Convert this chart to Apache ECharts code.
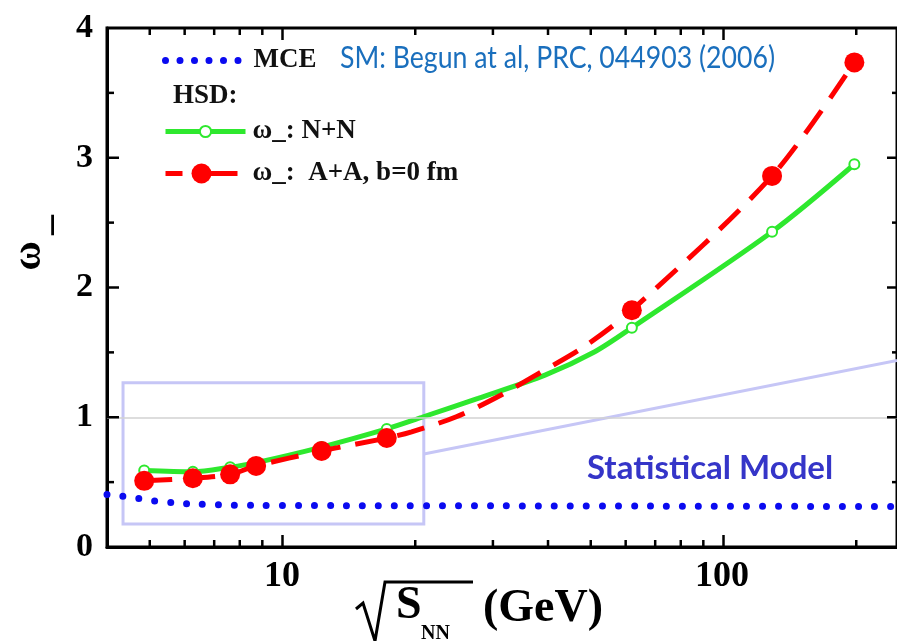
<!DOCTYPE html>
<html><head><meta charset="utf-8">
<script src="https://cdn.jsdelivr.net/npm/echarts@6/dist/echarts.min.js"></script>
<style>html,body{margin:0;padding:0;background:#fff}#c{width:897px;height:641px}</style>
</head><body><div id="c"></div>
<script>
// ---- data ----
const energies = [4.86, 6.27, 7.62, 8.73, 12.3, 17.3, 62.4, 130, 200];
const omegaNN = [0.59, 0.58, 0.615, 0.65, 0.77, 0.91, 1.69, 2.43, 2.95];
const omegaAA = [0.51, 0.53, 0.56, 0.625, 0.74, 0.84, 1.825, 2.86, 3.735];
// additional points (no markers there)
const nnCurveE = [20.8, 27.9, 39.6, 51.4];
const nnCurveW = [1.0, 1.146, 1.325, 1.505];
const aaCurveE = [19.7, 24.9, 31.4, 38.9, 48.9];
const aaCurveW = [0.888, 1.004, 1.17, 1.35, 1.55];
const mceEnergies = [4, 4.5, 5, 5.5, 6, 7, 8, 10, 20, 50, 100, 250];
const omegaMCE = [0.405, 0.385, 0.36, 0.345, 0.335, 0.326, 0.322, 0.32, 0.318, 0.316, 0.314, 0.312];
const xRange = [4, 250];
const yRange = [0, 4];
const xMajorTicks = [10, 100];
const xMinorTicks = [5, 6, 7, 8, 9, 20, 30, 40, 50, 60, 70, 80, 90, 200];
const yMajorTicks = [1, 2, 3];
const yMinorTicks = [0.5, 1.5, 2.5, 3.5];
const boxCorners = [[4.35, 1.266], [21, 0.177]];
const connector = [[21, 0.717], [250, 1.437]];
const refLine = 1;
const seriesNames = ['MCE', 'ω_: N+N', 'ω_:  A+A, b=0 fm'];

// ---- layout / style ----
const G = { left: 107, top: 28, width: 792, height: 519 };
const serif = "'Liberation Serif','Times New Roman',serif";
const zip = (xs, ys) => xs.map((x, i) => [x, ys[i]]);
function curveData(me, mw, ce, cw) {
  const pts = me.map((x, i) => ({ value: [x, mw[i]] }))
    .concat(ce.map((x, i) => ({ value: [x, cw[i]], symbol: 'none' })));
  return pts.sort((a, b) => a.value[0] - b.value[0]);
}
const legendText = { fontFamily: serif, fontWeight: 'bold', fontSize: 27, color: '#111' };

// inward tick marks on all four sides (axis decoration, from the axis ranges and the grid box)
const lg = Math.log10;
const pxOf = v => G.left + G.width * (lg(v) - lg(xRange[0])) / (lg(xRange[1]) - lg(xRange[0]));
const pyOf = v => G.top + G.height * (yRange[1] - v) / (yRange[1] - yRange[0]);
const tickEls = [];
function seg(x1, y1, x2, y2) {
  tickEls.push({ type: 'polyline', z: 100, silent: true,
    shape: { points: [[x1, y1], [x2, y2]] },
    style: { stroke: '#000', lineWidth: 2.5, fill: null } });
}
function addTicks(len, xs, ys) {
  const yb = G.top + G.height, yt = G.top, xl = G.left, xr = G.left + G.width;
  xs.forEach(v => { const x = pxOf(v); seg(x, yb, x, yb - len); seg(x, yt, x, yt + len); });
  ys.forEach(v => { const y = pyOf(v); seg(xl, y, xl + len, y); seg(xr, y, xr - len, y); });
}
addTicks(12, xMajorTicks, yMajorTicks);
addTicks(7, xMinorTicks, yMinorTicks);

const textEls = [
  { type: 'text', left: 173, top: 83, style: { text: 'HSD:', font: "bold 27px 'Liberation Serif'", fill: '#111' } },
  { type: 'text', x: 340, y: 58, scaleX: 0.86, style: { text: 'SM: Begun at al, PRC, 044903 (2006)', font: "31px Lato", fill: '#1a6fbd', verticalAlign: 'middle' } },
  { type: 'text', x: 587, y: 468, style: { text: 'Statistical Model', font: "bold 33px Lato", fill: '#3535c8', verticalAlign: 'middle' } },
  // y-axis title  ω_
  { type: 'text', x: 30, y: 256, rotation: Math.PI / 2, style: { text: 'ω', font: "bold 40px 'Liberation Serif'", fill: '#000', align: 'center', verticalAlign: 'middle' } },
  { type: 'text', x: 52, y: 225, rotation: Math.PI / 2, style: { text: '–', font: "bold 40px 'Liberation Serif'", fill: '#000', align: 'center', verticalAlign: 'middle' } },
  // x-axis title  √S_NN (GeV)
  { type: 'polyline', shape: { points: [[356, 609], [363, 603], [375, 641], [385, 582], [473, 582]] }, style: { stroke: '#000', lineWidth: 3, fill: null } },
  { type: 'text', x: 396, y: 606, style: { text: 'S', font: "bold 46px 'Liberation Serif'", fill: '#000', verticalAlign: 'middle' } },
  { type: 'text', x: 421, y: 634, style: { text: 'NN', font: "bold 20px 'Liberation Serif'", fill: '#000', verticalAlign: 'middle' } },
  { type: 'text', x: 483, y: 609, style: { text: '(GeV)', font: "bold 46px 'Liberation Serif'", fill: '#000', verticalAlign: 'middle' } }
];

const chart = echarts.init(document.getElementById('c'), null, { renderer: 'canvas' });
chart.setOption({
  animation: false,
  backgroundColor: '#fff',
  grid: { left: G.left, top: G.top, width: G.width, height: G.height, containLabel: false,
    show: true, borderColor: '#000', borderWidth: 3, backgroundColor: 'rgba(0,0,0,0)' },
  xAxis: {
    type: 'log', logBase: 10, min: xRange[0], max: xRange[1],
    axisLine: { show: true, onZero: false, lineStyle: { color: '#000', width: 3 } },
    axisTick: { show: false },
    axisLabel: { show: true, customValues: xMajorTicks, margin: 12, fontFamily: serif, fontWeight: 'bold', fontSize: 36, color: '#000' },
    splitLine: { show: false }, minorTick: { show: false }, minorSplitLine: { show: false }
  },
  yAxis: {
    type: 'value', min: yRange[0], max: yRange[1], interval: 1,
    axisLine: { show: true, onZero: false, lineStyle: { color: '#000', width: 3 } },
    axisTick: { show: false }, minorTick: { show: false },
    axisLabel: { show: true, margin: 14, fontFamily: serif, fontWeight: 'bold', fontSize: 34, color: '#000' },
    splitLine: { show: false }
  },
  legend: [
    { data: [{ name: seriesNames[0], itemStyle: { opacity: 0 },
        lineStyle: { color: '#0a0af0', width: 7, type: [0, 14.5], cap: 'round' } }],
      left: 162, top: 47, padding: 0, itemWidth: 73, itemHeight: 14, selectedMode: false,
      textStyle: Object.assign({ padding: [0, 0, 0, 10] }, legendText) },
    { data: [{ name: seriesNames[1], lineStyle: { color: '#2ee82e', width: 5 } }],
      left: 163, top: 118, padding: 0, itemWidth: 80, itemHeight: 14, selectedMode: false,
      textStyle: Object.assign({ padding: [0, 0, 0, 2] }, legendText) },
    { data: [{ name: seriesNames[2], lineStyle: { color: '#ff0000', width: 5, type: [17, 14, 60, 10] } }],
      left: 163, top: 160, padding: 0, itemWidth: 72, itemHeight: 25, selectedMode: false,
      textStyle: Object.assign({ padding: [0, 0, 0, 10] }, legendText) }
  ],
  graphic: textEls.concat(tickEls),
  series: [
    {
      name: 'annotation', type: 'line', data: connector, symbol: 'none', silent: true, z: 1,
      lineStyle: { color: '#c6c6f6', width: 3 },
      markArea: { silent: true, itemStyle: { color: 'rgba(0,0,0,0)', borderColor: '#c6c6f6', borderWidth: 3 },
        data: [[{ coord: boxCorners[0] }, { coord: boxCorners[1] }]] },
      markLine: { silent: true, symbol: ['none', 'none'], label: { show: false },
        lineStyle: { color: '#d2d2d2', width: 1.5, type: 'solid' }, data: [{ yAxis: refLine }] }
    },
    {
      name: seriesNames[0], type: 'line', data: zip(mceEnergies, omegaMCE), smooth: true,
      symbol: 'none', showSymbol: false, z: 3,
      lineStyle: { color: '#0a0af0', width: 7, type: [0, 16], cap: 'round' }
    },
    {
      name: seriesNames[1], type: 'line', data: curveData(energies, omegaNN, nnCurveE, nnCurveW), smooth: 0.3, z: 4,
      symbol: 'emptyCircle', symbolSize: 10,
      itemStyle: { color: '#2ee82e', borderWidth: 1.5 },
      lineStyle: { color: '#2ee82e', width: 5 }
    },
    {
      name: seriesNames[2], type: 'line', data: curveData(energies, omegaAA, aaCurveE, aaCurveW), smooth: 0.3, z: 5,
      symbol: 'circle', symbolSize: 20,
      itemStyle: { color: '#ff0000' },
      lineStyle: { color: '#ff0000', width: 5, type: [28, 15] }
    }
  ]
});
</script></body></html>
